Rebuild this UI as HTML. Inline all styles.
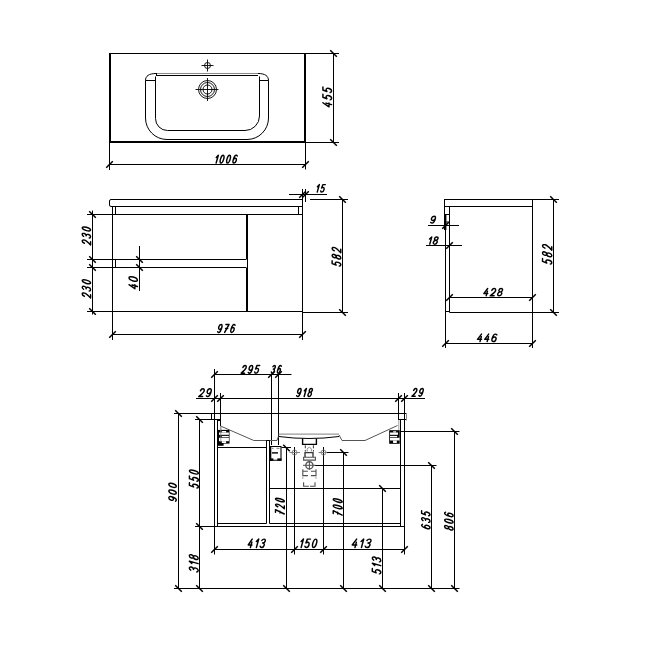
<!DOCTYPE html>
<html><head><meta charset="utf-8"><style>
html,body{margin:0;padding:0;background:#fff;}
svg{display:block;}
.t path{fill:none;stroke:#000;stroke-width:1.45px;stroke-linecap:round;stroke-linejoin:round;}
</style></head><body>
<svg width="650" height="650" viewBox="0 0 650 650">
<rect width="650" height="650" fill="#fff"/>
<line x1="110" y1="53" x2="110" y2="143" stroke="#000" stroke-width="2"/>
<line x1="109" y1="53.5" x2="339" y2="53.5" stroke="#000" stroke-width="1.1"/>
<line x1="305" y1="53" x2="305" y2="143" stroke="#000" stroke-width="2"/>
<line x1="109" y1="142" x2="306" y2="142" stroke="#000" stroke-width="2"/>
<line x1="306" y1="142.5" x2="339" y2="142.5" stroke="#000" stroke-width="1"/>
<line x1="109.5" y1="143" x2="109.5" y2="170" stroke="#000" stroke-width="1"/>
<line x1="305.5" y1="143" x2="305.5" y2="169.5" stroke="#000" stroke-width="1"/>
<path d="M145.5,80.5 L145.5,118 A21.5,21.5 0 0 0 167,139.5 L247,139.5 A21.5,21.5 0 0 0 268.5,118 L268.5,80.5 C268.5,76 265,73.5 258,73.5 M145.5,80.5 C145.5,76 149,73.5 156,73.5" stroke="#000" stroke-width="1" fill="none"/>
<path d="M155.5,76.5 L155.5,118.5 A12,12 0 0 0 167.5,130.5 L245,130.5 A14.5,14.5 0 0 0 259.5,116 L259.5,76.5" stroke="#000" stroke-width="1" fill="none"/>
<line x1="156" y1="73.5" x2="258" y2="73.5" stroke="#888" stroke-width="1"/>
<line x1="156" y1="75.5" x2="258" y2="75.5" stroke="#000" stroke-width="1"/>
<line x1="156.5" y1="73" x2="156.5" y2="76" stroke="#000" stroke-width="1"/>
<line x1="145.5" y1="80.5" x2="155.5" y2="80.5" stroke="#000" stroke-width="1"/>
<line x1="259.5" y1="80.5" x2="268.5" y2="80.5" stroke="#000" stroke-width="1"/>
<circle cx="207.5" cy="65.5" r="3" stroke="#000" stroke-width="0.9" fill="none"/>
<line x1="201.5" y1="65.5" x2="213.5" y2="65.5" stroke="#000" stroke-width="0.9"/>
<line x1="207.5" y1="59.5" x2="207.5" y2="71.5" stroke="#000" stroke-width="0.9"/>
<circle cx="207.5" cy="89.5" r="9" stroke="#000" stroke-width="0.9" fill="none"/>
<circle cx="207.5" cy="89.5" r="7" stroke="#000" stroke-width="0.9" fill="none"/>
<circle cx="207.5" cy="89.5" r="4.5" stroke="#000" stroke-width="0.9" fill="none"/>
<line x1="195.5" y1="89.5" x2="218.5" y2="89.5" stroke="#000" stroke-width="0.9"/>
<line x1="207.5" y1="78" x2="207.5" y2="101" stroke="#000" stroke-width="0.9"/>
<line x1="333.5" y1="53.5" x2="333.5" y2="142.5" stroke="#000" stroke-width="1"/>
<line x1="330.2" y1="50.2" x2="336.8" y2="56.8" stroke="#000" stroke-width="1.5"/>
<line x1="330.2" y1="139.2" x2="336.8" y2="145.8" stroke="#000" stroke-width="1.5"/>
<line x1="109.5" y1="164.5" x2="305.5" y2="164.5" stroke="#000" stroke-width="1"/>
<line x1="106.2" y1="167.8" x2="112.8" y2="161.2" stroke="#000" stroke-width="1.5"/>
<line x1="302.2" y1="167.8" x2="308.8" y2="161.2" stroke="#000" stroke-width="1.5"/>
<path d="M302.5,199.5 L111,199.5 Q109.5,199.5 109.5,201 L109.5,205 Q109.5,206.5 111,206.5 L302.5,206.5" stroke="#000" stroke-width="1" fill="none"/>
<line x1="112.5" y1="206.5" x2="112.5" y2="340" stroke="#000" stroke-width="1"/>
<line x1="302.5" y1="189" x2="302.5" y2="340" stroke="#000" stroke-width="1"/>
<line x1="305.5" y1="189" x2="305.5" y2="202" stroke="#000" stroke-width="1"/>
<line x1="115.5" y1="206.5" x2="115.5" y2="214.5" stroke="#000" stroke-width="1"/>
<line x1="115.5" y1="259.5" x2="115.5" y2="267.5" stroke="#000" stroke-width="1"/>
<line x1="298.5" y1="206.5" x2="298.5" y2="214.5" stroke="#000" stroke-width="1"/>
<line x1="87" y1="214.5" x2="302.5" y2="214.5" stroke="#000" stroke-width="1"/>
<line x1="87" y1="259.5" x2="246" y2="259.5" stroke="#000" stroke-width="1"/>
<line x1="87" y1="267.5" x2="246" y2="267.5" stroke="#000" stroke-width="1"/>
<line x1="87" y1="311.5" x2="302.5" y2="311.5" stroke="#000" stroke-width="1"/>
<line x1="302.5" y1="312.5" x2="348" y2="312.5" stroke="#000" stroke-width="1"/>
<line x1="310" y1="199.5" x2="348" y2="199.5" stroke="#000" stroke-width="1"/>
<line x1="247" y1="214.5" x2="247" y2="259.5" stroke="#000" stroke-width="2"/>
<line x1="247" y1="267.5" x2="247" y2="311.5" stroke="#000" stroke-width="2"/>
<line x1="247.5" y1="259" x2="247.5" y2="268" stroke="#000" stroke-width="1"/>
<line x1="92.5" y1="210.5" x2="92.5" y2="314.5" stroke="#000" stroke-width="1"/>
<line x1="89.2" y1="211.2" x2="95.8" y2="217.8" stroke="#000" stroke-width="1.5"/>
<line x1="89.2" y1="256.2" x2="95.8" y2="262.8" stroke="#000" stroke-width="1.5"/>
<line x1="89.2" y1="264.2" x2="95.8" y2="270.8" stroke="#000" stroke-width="1.5"/>
<line x1="89.2" y1="308.2" x2="95.8" y2="314.8" stroke="#000" stroke-width="1.5"/>
<line x1="139.5" y1="246" x2="139.5" y2="291" stroke="#000" stroke-width="1"/>
<line x1="136.2" y1="256.2" x2="142.8" y2="262.8" stroke="#000" stroke-width="1.5"/>
<line x1="136.2" y1="264.2" x2="142.8" y2="270.8" stroke="#000" stroke-width="1.5"/>
<line x1="112.5" y1="334.5" x2="302.5" y2="334.5" stroke="#000" stroke-width="1"/>
<line x1="109.2" y1="337.8" x2="115.8" y2="331.2" stroke="#000" stroke-width="1.5"/>
<line x1="299.2" y1="337.8" x2="305.8" y2="331.2" stroke="#000" stroke-width="1.5"/>
<line x1="342.5" y1="199.5" x2="342.5" y2="312.5" stroke="#000" stroke-width="1"/>
<line x1="339.2" y1="196.2" x2="345.8" y2="202.8" stroke="#000" stroke-width="1.5"/>
<line x1="339.2" y1="309.2" x2="345.8" y2="315.8" stroke="#000" stroke-width="1.5"/>
<line x1="289" y1="194.5" x2="327" y2="194.5" stroke="#000" stroke-width="1"/>
<line x1="299.2" y1="197.8" x2="305.8" y2="191.2" stroke="#000" stroke-width="1.5"/>
<line x1="302.2" y1="197.8" x2="308.8" y2="191.2" stroke="#000" stroke-width="1.5"/>
<line x1="444.5" y1="199.5" x2="559" y2="199.5" stroke="#000" stroke-width="1"/>
<line x1="444.5" y1="199" x2="444.5" y2="214.5" stroke="#000" stroke-width="1"/>
<line x1="445.5" y1="229" x2="445.5" y2="348" stroke="#000" stroke-width="1"/>
<line x1="444.5" y1="206.5" x2="532.5" y2="206.5" stroke="#000" stroke-width="1"/>
<line x1="449.5" y1="206.5" x2="449.5" y2="312.5" stroke="#000" stroke-width="1"/>
<line x1="449.5" y1="312.5" x2="559" y2="312.5" stroke="#000" stroke-width="1"/>
<line x1="445.5" y1="311.5" x2="449.5" y2="311.5" stroke="#000" stroke-width="1"/>
<line x1="532.5" y1="199.5" x2="532.5" y2="348" stroke="#000" stroke-width="1"/>
<rect x="444" y="214" width="2.4" height="16" fill="#000"/>
<path d="M446,214.5 L449.5,214.5 M446,222 L449.5,222" stroke="#000" stroke-width="1" fill="none"/>
<line x1="428" y1="225.5" x2="459" y2="225.5" stroke="#000" stroke-width="1"/>
<line x1="442.2" y1="228.8" x2="448.8" y2="222.2" stroke="#000" stroke-width="1.5"/>
<line x1="426" y1="245.5" x2="462" y2="245.5" stroke="#000" stroke-width="1"/>
<line x1="446.2" y1="248.8" x2="452.8" y2="242.2" stroke="#000" stroke-width="1.5"/>
<line x1="449.5" y1="297.5" x2="532.5" y2="297.5" stroke="#000" stroke-width="1"/>
<line x1="446.2" y1="300.8" x2="452.8" y2="294.2" stroke="#000" stroke-width="1.5"/>
<line x1="529.2" y1="300.8" x2="535.8" y2="294.2" stroke="#000" stroke-width="1.5"/>
<line x1="445.5" y1="343.5" x2="532.5" y2="343.5" stroke="#000" stroke-width="1"/>
<line x1="442.2" y1="346.8" x2="448.8" y2="340.2" stroke="#000" stroke-width="1.5"/>
<line x1="529.2" y1="346.8" x2="535.8" y2="340.2" stroke="#000" stroke-width="1.5"/>
<line x1="553.5" y1="199.5" x2="553.5" y2="312.5" stroke="#000" stroke-width="1"/>
<line x1="550.2" y1="196.2" x2="556.8" y2="202.8" stroke="#000" stroke-width="1.5"/>
<line x1="550.2" y1="309.2" x2="556.8" y2="315.8" stroke="#000" stroke-width="1.5"/>
<line x1="174" y1="413.5" x2="406.5" y2="413.5" stroke="#000" stroke-width="1"/>
<line x1="195" y1="419.5" x2="220.5" y2="419.5" stroke="#000" stroke-width="1"/>
<line x1="398.5" y1="419.5" x2="406.5" y2="419.5" stroke="#000" stroke-width="1"/>
<line x1="211.5" y1="413.5" x2="211.5" y2="419.5" stroke="#000" stroke-width="1"/>
<line x1="406.5" y1="413.5" x2="406.5" y2="420.5" stroke="#888" stroke-width="1"/>
<line x1="214.5" y1="369" x2="214.5" y2="554.5" stroke="#000" stroke-width="1"/>
<line x1="217.5" y1="419.5" x2="217.5" y2="526.5" stroke="#000" stroke-width="1"/>
<line x1="220.5" y1="393" x2="220.5" y2="426" stroke="#000" stroke-width="1"/>
<line x1="217.5" y1="420.5" x2="220.5" y2="420.5" stroke="#000" stroke-width="1"/>
<line x1="398.5" y1="393" x2="398.5" y2="420" stroke="#000" stroke-width="1"/>
<line x1="400.5" y1="419.5" x2="400.5" y2="526.5" stroke="#000" stroke-width="1"/>
<line x1="404.5" y1="393" x2="404.5" y2="554.5" stroke="#000" stroke-width="1"/>
<line x1="214.5" y1="374.5" x2="291.5" y2="374.5" stroke="#000" stroke-width="1"/>
<line x1="211.2" y1="377.8" x2="217.8" y2="371.2" stroke="#000" stroke-width="1.5"/>
<line x1="268.2" y1="377.8" x2="274.8" y2="371.2" stroke="#000" stroke-width="1.5"/>
<line x1="275.2" y1="377.8" x2="281.8" y2="371.2" stroke="#000" stroke-width="1.5"/>
<line x1="196" y1="398.5" x2="425" y2="398.5" stroke="#000" stroke-width="1"/>
<line x1="211.2" y1="401.8" x2="217.8" y2="395.2" stroke="#000" stroke-width="1.5"/>
<line x1="217.2" y1="401.8" x2="223.8" y2="395.2" stroke="#000" stroke-width="1.5"/>
<line x1="395.2" y1="401.8" x2="401.8" y2="395.2" stroke="#000" stroke-width="1.5"/>
<line x1="401.2" y1="401.8" x2="407.8" y2="395.2" stroke="#000" stroke-width="1.5"/>
<line x1="271.5" y1="374.5" x2="271.5" y2="445" stroke="#000" stroke-width="1"/>
<line x1="278.5" y1="374.5" x2="278.5" y2="445" stroke="#000" stroke-width="1"/>
<path d="M220.5,426 L253.8,440.5 L277,440.5 L278.7,435.7" stroke="#555" stroke-width="1" fill="none"/>
<path d="M397.5,425.5 L365,440.5 L342,440.5 L339,435" stroke="#555" stroke-width="1" fill="none"/>
<line x1="278.7" y1="434.2" x2="339" y2="434.2" stroke="#999" stroke-width="1.3"/>
<path d="M278.7,436.5 Q309,440.5 339,436.5" stroke="#000" stroke-width="1" fill="none"/>
<path d="M302.6,438.5 L302.6,444.4 L316.4,444.4 L316.4,438.5" stroke="#000" stroke-width="1.4" fill="none"/>
<line x1="220.8" y1="426" x2="220.8" y2="445" stroke="#888" stroke-width="0.8"/>
<line x1="398.8" y1="420" x2="398.8" y2="437" stroke="#888" stroke-width="0.8"/>
<line x1="266.5" y1="440.5" x2="266.5" y2="523.5" stroke="#000" stroke-width="1"/>
<line x1="269.5" y1="440.5" x2="269.5" y2="523.5" stroke="#000" stroke-width="1"/>
<line x1="266.5" y1="440.5" x2="269.5" y2="440.5" stroke="#000" stroke-width="1"/>
<line x1="217.5" y1="447.5" x2="266.5" y2="447.5" stroke="#000" stroke-width="1"/>
<line x1="281.5" y1="447.5" x2="291" y2="447.5" stroke="#000" stroke-width="1"/>
<line x1="286.5" y1="447.5" x2="286.5" y2="588.5" stroke="#000" stroke-width="1"/>
<line x1="283.2" y1="444.7" x2="289.8" y2="451.3" stroke="#000" stroke-width="1.5"/>
<line x1="294.5" y1="447" x2="294.5" y2="554.5" stroke="#000" stroke-width="1"/>
<line x1="323.5" y1="447" x2="323.5" y2="554.5" stroke="#000" stroke-width="1"/>
<circle cx="294.5" cy="452.5" r="2.5" stroke="#777" stroke-width="0.9" fill="none"/>
<line x1="289.5" y1="452.5" x2="300" y2="452.5" stroke="#777" stroke-width="0.9"/>
<circle cx="323.5" cy="452.5" r="2.5" stroke="#777" stroke-width="0.9" fill="none"/>
<line x1="318.5" y1="452.5" x2="327" y2="452.5" stroke="#777" stroke-width="0.9"/>
<line x1="327" y1="452.5" x2="348.5" y2="452.5" stroke="#000" stroke-width="1"/>
<line x1="343.5" y1="452.5" x2="343.5" y2="588.5" stroke="#000" stroke-width="1"/>
<line x1="340.2" y1="449.2" x2="346.8" y2="455.8" stroke="#000" stroke-width="1.5"/>
<line x1="314.6" y1="465.5" x2="436.5" y2="465.5" stroke="#000" stroke-width="1"/>
<line x1="431.5" y1="465.5" x2="431.5" y2="588.5" stroke="#000" stroke-width="1"/>
<line x1="428.2" y1="462.2" x2="434.8" y2="468.8" stroke="#000" stroke-width="1.5"/>
<line x1="400.5" y1="431.5" x2="459.5" y2="431.5" stroke="#000" stroke-width="1"/>
<line x1="454.5" y1="431.5" x2="454.5" y2="588.5" stroke="#000" stroke-width="1"/>
<line x1="451.2" y1="428.2" x2="457.8" y2="434.8" stroke="#000" stroke-width="1.5"/>
<line x1="269.5" y1="488.5" x2="400.5" y2="488.5" stroke="#000" stroke-width="1"/>
<line x1="382.5" y1="488.5" x2="382.5" y2="588.5" stroke="#000" stroke-width="1"/>
<line x1="379.2" y1="485.2" x2="385.8" y2="491.8" stroke="#000" stroke-width="1.5"/>
<line x1="217.5" y1="523.5" x2="266.5" y2="523.5" stroke="#000" stroke-width="1"/>
<line x1="269.5" y1="523.5" x2="400.5" y2="523.5" stroke="#000" stroke-width="1"/>
<line x1="195" y1="526.5" x2="404.5" y2="526.5" stroke="#000" stroke-width="1"/>
<line x1="178.5" y1="413.5" x2="178.5" y2="588.5" stroke="#000" stroke-width="1"/>
<line x1="175.2" y1="410.2" x2="181.8" y2="416.8" stroke="#000" stroke-width="1.5"/>
<line x1="175.2" y1="585.2" x2="181.8" y2="591.8" stroke="#000" stroke-width="1.5"/>
<line x1="199.5" y1="419.5" x2="199.5" y2="588.5" stroke="#000" stroke-width="1"/>
<line x1="196.2" y1="416.2" x2="202.8" y2="422.8" stroke="#000" stroke-width="1.5"/>
<line x1="196.2" y1="523.2" x2="202.8" y2="529.8" stroke="#000" stroke-width="1.5"/>
<line x1="196.2" y1="585.2" x2="202.8" y2="591.8" stroke="#000" stroke-width="1.5"/>
<line x1="174" y1="588.5" x2="459.5" y2="588.5" stroke="#000" stroke-width="1"/>
<line x1="283.2" y1="585.2" x2="289.8" y2="591.8" stroke="#000" stroke-width="1.5"/>
<line x1="340.2" y1="585.2" x2="346.8" y2="591.8" stroke="#000" stroke-width="1.5"/>
<line x1="379.2" y1="585.2" x2="385.8" y2="591.8" stroke="#000" stroke-width="1.5"/>
<line x1="428.2" y1="585.2" x2="434.8" y2="591.8" stroke="#000" stroke-width="1.5"/>
<line x1="451.2" y1="585.2" x2="457.8" y2="591.8" stroke="#000" stroke-width="1.5"/>
<line x1="214.5" y1="549.5" x2="404.5" y2="549.5" stroke="#000" stroke-width="1"/>
<line x1="211.2" y1="552.8" x2="217.8" y2="546.2" stroke="#000" stroke-width="1.5"/>
<line x1="291.2" y1="552.8" x2="297.8" y2="546.2" stroke="#000" stroke-width="1.5"/>
<line x1="320.2" y1="552.8" x2="326.8" y2="546.2" stroke="#000" stroke-width="1.5"/>
<line x1="401.2" y1="552.8" x2="407.8" y2="546.2" stroke="#000" stroke-width="1.5"/>
<rect x="389.2" y="430.2" width="10.5" height="13.6" fill="#000"/>
<rect x="393.1" y="431.3" width="3.1" height="1.2" fill="#fff"/>
<rect x="390" y="432.5" width="8" height="2.3" fill="#fff"/>
<rect x="390" y="435.9" width="7.1" height="1.3" fill="#fff"/>
<rect x="390" y="437.8" width="9.5" height="2.7" fill="#fff"/>
<rect x="393.1" y="440.5" width="3.7" height="2.5" fill="#fff"/>
<line x1="400.5" y1="425" x2="400.5" y2="445" stroke="#000" stroke-width="1"/>
<rect x="217.9" y="429.9" width="11.6" height="13.7" fill="#000"/>
<rect x="221.8" y="431" width="4.3" height="1.5" fill="#fff"/>
<rect x="219" y="432.5" width="9.9" height="2.3" fill="#fff"/>
<rect x="221.8" y="435.9" width="7" height="1.3" fill="#fff"/>
<rect x="219" y="437.8" width="9.9" height="3.4" fill="#fff"/>
<rect x="221.8" y="441.2" width="4.3" height="1.8" fill="#fff"/>
<rect x="217.9" y="443" width="5.7" height="2.8" fill="#000"/>
<line x1="217.5" y1="425" x2="217.5" y2="447" stroke="#000" stroke-width="1"/>
<path d="M270.4,446.5 H281 V460.2 H270.4 Z" stroke="#000" stroke-width="1.1" fill="none"/>
<line x1="270.5" y1="446" x2="270.5" y2="461" stroke="#000" stroke-width="1.6"/>
<rect x="271.9" y="452.2" width="6.1" height="1.4" fill="#000"/>
<rect x="270" y="458.4" width="3.4" height="2.3" fill="#000"/>
<rect x="277.3" y="458.4" width="4.2" height="2.3" fill="#000"/>
<line x1="272" y1="448.3" x2="273.5" y2="448.3" stroke="#777" stroke-width="1"/>
<line x1="276.5" y1="448.3" x2="279.5" y2="448.3" stroke="#777" stroke-width="1"/>
<line x1="220.8" y1="426" x2="220.8" y2="442" stroke="#888" stroke-width="0.8"/>
<path d="M305.3,445.3 v3 M305.3,450 v1.6 M313.4,445.3 v3 M313.4,450 v1.6" stroke="#3a3a3a" stroke-width="1" fill="none"/>
<path d="M307.2,451.5 v-2.3 Q309.3,445.2 311.4,449.2 v2.3" stroke="#888" stroke-width="1" fill="none"/>
<path d="M305,457 V452.6 H313 V457" stroke="#3a3a3a" stroke-width="1.4" fill="none"/>
<path d="M303.6,457.3 h11.8 v2.8 h-11.8 z" stroke="#505050" stroke-width="1.1" fill="none"/>
<circle cx="309.4" cy="465.3" r="3.6" stroke="#5a5a5a" stroke-width="1.4" fill="none"/>
<line x1="303" y1="465.3" x2="315.6" y2="465.3" stroke="#505050" stroke-width="1"/>
<line x1="309.4" y1="461.3" x2="309.4" y2="470" stroke="#505050" stroke-width="1"/>
<path d="M307.9,471.3 H302.8 V475.6 H307.9 M310.9,471.3 H316 V475.6 H310.9 M302.8,469.3 v2 M316,469.3 v2" stroke="#505050" stroke-width="1.1" fill="none"/>
<path d="M302.8,476.8 v2 M316,476.8 v2" stroke="#999" stroke-width="1" fill="none"/>
<path d="M303.6,482.3 V486.3 H308.8 M315,482.3 V486.3 H310" stroke="#505050" stroke-width="1.1" fill="none"/>
<g class="t"><path d="M0,0.28 L1,0 L1,1" transform="matrix(1.453,0,-2.198,7.850,216.870,155.225)" vector-effect="non-scaling-stroke"/><path d="M0.5,0 C0.82,0 1,0.25 1,0.5 C1,0.75 0.82,1 0.5,1 C0.18,1 0,0.75 0,0.5 C0,0.25 0.18,0 0.5,0 Z" transform="matrix(3.229,0,-2.198,7.850,221.571,155.225)" vector-effect="non-scaling-stroke"/><path d="M0.5,0 C0.82,0 1,0.25 1,0.5 C1,0.75 0.82,1 0.5,1 C0.18,1 0,0.75 0,0.5 C0,0.25 0.18,0 0.5,0 Z" transform="matrix(3.229,0,-2.198,7.850,228.048,155.225)" vector-effect="non-scaling-stroke"/><path d="M0.92,0.1 C0.8,0.03 0.66,0 0.52,0 C0.16,0 0,0.3 0,0.62 C0,0.86 0.18,1 0.5,1 C0.8,1 1,0.86 1,0.68 C1,0.5 0.8,0.38 0.5,0.38 C0.26,0.38 0.06,0.48 0,0.6" transform="matrix(3.229,0,-2.198,7.850,234.524,155.225)" vector-effect="non-scaling-stroke"/></g>
<g class="t" transform="translate(332.3,107.5) rotate(-90)"><path d="M0.62,0 L0,0.7 L1,0.7 M0.76,0.36 L0.76,1" transform="matrix(3.787,0,-2.422,8.650,2.420,-9.375)" vector-effect="non-scaling-stroke"/><path d="M0.96,0 L0.14,0 L0.04,0.46 C0.18,0.4 0.34,0.37 0.5,0.37 C0.8,0.37 1,0.52 1,0.7 C1,0.88 0.8,1 0.5,1 C0.26,1 0.08,0.93 0,0.84" transform="matrix(3.787,0,-2.422,8.650,9.680,-9.375)" vector-effect="non-scaling-stroke"/><path d="M0.96,0 L0.14,0 L0.04,0.46 C0.18,0.4 0.34,0.37 0.5,0.37 C0.8,0.37 1,0.52 1,0.7 C1,0.88 0.8,1 0.5,1 C0.26,1 0.08,0.93 0,0.84" transform="matrix(3.787,0,-2.422,8.650,16.939,-9.375)" vector-effect="non-scaling-stroke"/></g>
<g class="t"><path d="M0,0.28 L1,0 L1,1" transform="matrix(1.326,0,-2.086,7.450,317.985,184.625)" vector-effect="non-scaling-stroke"/><path d="M0.96,0 L0.14,0 L0.04,0.46 C0.18,0.4 0.34,0.37 0.5,0.37 C0.8,0.37 1,0.52 1,0.7 C1,0.88 0.8,1 0.5,1 C0.26,1 0.08,0.93 0,0.84" transform="matrix(2.946,0,-2.086,7.450,322.447,184.625)" vector-effect="non-scaling-stroke"/></g>
<g class="t" transform="translate(91.3,245.8) rotate(-90)"><path d="M0.02,0.26 C0.08,0.08 0.28,0 0.52,0 C0.8,0 1,0.12 1,0.3 C1,0.48 0.85,0.58 0,1 L1,1" transform="matrix(3.272,0,-2.338,8.350,3.063,-9.075)" vector-effect="non-scaling-stroke"/><path d="M0.04,0.16 C0.14,0.05 0.3,0 0.5,0 C0.78,0 0.96,0.1 0.96,0.25 C0.96,0.4 0.78,0.47 0.42,0.47 C0.8,0.47 1,0.58 1,0.74 C1,0.9 0.8,1 0.5,1 C0.26,1 0.08,0.93 0,0.84" transform="matrix(3.272,0,-2.338,8.350,9.723,-9.075)" vector-effect="non-scaling-stroke"/><path d="M0.5,0 C0.82,0 1,0.25 1,0.5 C1,0.75 0.82,1 0.5,1 C0.18,1 0,0.75 0,0.5 C0,0.25 0.18,0 0.5,0 Z" transform="matrix(3.272,0,-2.338,8.350,16.383,-9.075)" vector-effect="non-scaling-stroke"/></g>
<g class="t" transform="translate(91.3,298.8) rotate(-90)"><path d="M0.02,0.26 C0.08,0.08 0.28,0 0.52,0 C0.8,0 1,0.12 1,0.3 C1,0.48 0.85,0.58 0,1 L1,1" transform="matrix(3.340,0,-2.338,8.350,3.063,-9.075)" vector-effect="non-scaling-stroke"/><path d="M0.04,0.16 C0.14,0.05 0.3,0 0.5,0 C0.78,0 0.96,0.1 0.96,0.25 C0.96,0.4 0.78,0.47 0.42,0.47 C0.8,0.47 1,0.58 1,0.74 C1,0.9 0.8,1 0.5,1 C0.26,1 0.08,0.93 0,0.84" transform="matrix(3.340,0,-2.338,8.350,9.791,-9.075)" vector-effect="non-scaling-stroke"/><path d="M0.5,0 C0.82,0 1,0.25 1,0.5 C1,0.75 0.82,1 0.5,1 C0.18,1 0,0.75 0,0.5 C0,0.25 0.18,0 0.5,0 Z" transform="matrix(3.340,0,-2.338,8.350,16.520,-9.075)" vector-effect="non-scaling-stroke"/></g>
<g class="t" transform="translate(138.10000000000002,289.5) rotate(-90)"><path d="M0.62,0 L0,0.7 L1,0.7 M0.76,0.36 L0.76,1" transform="matrix(3.930,0,-2.338,8.350,2.362,-9.075)" vector-effect="non-scaling-stroke"/><path d="M0.5,0 C0.82,0 1,0.25 1,0.5 C1,0.75 0.82,1 0.5,1 C0.18,1 0,0.75 0,0.5 C0,0.25 0.18,0 0.5,0 Z" transform="matrix(3.930,0,-2.338,8.350,9.680,-9.075)" vector-effect="non-scaling-stroke"/></g>
<g class="t"><path d="M0.08,0.9 C0.2,0.97 0.34,1 0.48,1 C0.84,1 1,0.7 1,0.38 C1,0.14 0.82,0 0.5,0 C0.2,0 0,0.14 0,0.32 C0,0.5 0.2,0.62 0.5,0.62 C0.74,0.62 0.94,0.52 1,0.4" transform="matrix(3.147,0,-2.254,8.050,219.502,324.425)" vector-effect="non-scaling-stroke"/><path d="M0,0 L1,0 L0.3,1 M0.25,0.5 L0.9,0.5" transform="matrix(3.147,0,-2.254,8.050,225.953,324.425)" vector-effect="non-scaling-stroke"/><path d="M0.92,0.1 C0.8,0.03 0.66,0 0.52,0 C0.16,0 0,0.3 0,0.62 C0,0.86 0.18,1 0.5,1 C0.8,1 1,0.86 1,0.68 C1,0.5 0.8,0.38 0.5,0.38 C0.26,0.38 0.06,0.48 0,0.6" transform="matrix(3.147,0,-2.254,8.050,232.405,324.425)" vector-effect="non-scaling-stroke"/></g>
<g class="t" transform="translate(341.5,266.8) rotate(-90)"><path d="M0.96,0 L0.14,0 L0.04,0.46 C0.18,0.4 0.34,0.37 0.5,0.37 C0.8,0.37 1,0.52 1,0.7 C1,0.88 0.8,1 0.5,1 C0.26,1 0.08,0.93 0,0.84" transform="matrix(3.407,0,-2.422,8.650,2.759,-9.375)" vector-effect="non-scaling-stroke"/><path d="M0.5,0.46 C0.22,0.46 0.05,0.36 0.05,0.22 C0.05,0.08 0.25,0 0.5,0 C0.75,0 0.95,0.08 0.95,0.22 C0.95,0.36 0.78,0.46 0.5,0.46 C0.2,0.46 0,0.58 0,0.74 C0,0.9 0.2,1 0.5,1 C0.8,1 1,0.9 1,0.74 C1,0.58 0.8,0.46 0.5,0.46 Z" transform="matrix(3.407,0,-2.422,8.650,9.639,-9.375)" vector-effect="non-scaling-stroke"/><path d="M0.02,0.26 C0.08,0.08 0.28,0 0.52,0 C0.8,0 1,0.12 1,0.3 C1,0.48 0.85,0.58 0,1 L1,1" transform="matrix(3.407,0,-2.422,8.650,16.518,-9.375)" vector-effect="non-scaling-stroke"/></g>
<g class="t"><path d="M0.08,0.9 C0.2,0.97 0.34,1 0.48,1 C0.84,1 1,0.7 1,0.38 C1,0.14 0.82,0 0.5,0 C0.2,0 0,0.14 0,0.32 C0,0.5 0.2,0.62 0.5,0.62 C0.74,0.62 0.94,0.52 1,0.4" transform="matrix(3.888,0,-1.918,6.850,432.140,216.225)" vector-effect="non-scaling-stroke"/></g>
<g class="t"><path d="M0,0.28 L1,0 L1,1" transform="matrix(1.697,0,-2.030,7.250,430.093,236.925)" vector-effect="non-scaling-stroke"/><path d="M0.5,0.46 C0.22,0.46 0.05,0.36 0.05,0.22 C0.05,0.08 0.25,0 0.5,0 C0.75,0 0.95,0.08 0.95,0.22 C0.95,0.36 0.78,0.46 0.5,0.46 C0.2,0.46 0,0.58 0,0.74 C0,0.9 0.2,1 0.5,1 C0.8,1 1,0.9 1,0.74 C1,0.58 0.8,0.46 0.5,0.46 Z" transform="matrix(3.770,0,-2.030,7.250,434.870,236.925)" vector-effect="non-scaling-stroke"/></g>
<g class="t"><path d="M0.62,0 L0,0.7 L1,0.7 M0.76,0.36 L0.76,1" transform="matrix(3.915,0,-2.030,7.250,485.246,288.525)" vector-effect="non-scaling-stroke"/><path d="M0.02,0.26 C0.08,0.08 0.28,0 0.52,0 C0.8,0 1,0.12 1,0.3 C1,0.48 0.85,0.58 0,1 L1,1" transform="matrix(3.915,0,-2.030,7.250,492.241,288.525)" vector-effect="non-scaling-stroke"/><path d="M0.5,0.46 C0.22,0.46 0.05,0.36 0.05,0.22 C0.05,0.08 0.25,0 0.5,0 C0.75,0 0.95,0.08 0.95,0.22 C0.95,0.36 0.78,0.46 0.5,0.46 C0.2,0.46 0,0.58 0,0.74 C0,0.9 0.2,1 0.5,1 C0.8,1 1,0.9 1,0.74 C1,0.58 0.8,0.46 0.5,0.46 Z" transform="matrix(3.915,0,-2.030,7.250,499.236,288.525)" vector-effect="non-scaling-stroke"/></g>
<g class="t"><path d="M0.62,0 L0,0.7 L1,0.7 M0.76,0.36 L0.76,1" transform="matrix(4.050,0,-2.086,7.450,478.985,334.125)" vector-effect="non-scaling-stroke"/><path d="M0.62,0 L0,0.7 L1,0.7 M0.76,0.36 L0.76,1" transform="matrix(4.050,0,-2.086,7.450,486.171,334.125)" vector-effect="non-scaling-stroke"/><path d="M0.92,0.1 C0.8,0.03 0.66,0 0.52,0 C0.16,0 0,0.3 0,0.62 C0,0.86 0.18,1 0.5,1 C0.8,1 1,0.86 1,0.68 C1,0.5 0.8,0.38 0.5,0.38 C0.26,0.38 0.06,0.48 0,0.6" transform="matrix(4.050,0,-2.086,7.450,493.357,334.125)" vector-effect="non-scaling-stroke"/></g>
<g class="t" transform="translate(552.5,264.8) rotate(-90)"><path d="M0.96,0 L0.14,0 L0.04,0.46 C0.18,0.4 0.34,0.37 0.5,0.37 C0.8,0.37 1,0.52 1,0.7 C1,0.88 0.8,1 0.5,1 C0.26,1 0.08,0.93 0,0.84" transform="matrix(3.526,0,-2.590,9.250,2.901,-9.975)" vector-effect="non-scaling-stroke"/><path d="M0.5,0.46 C0.22,0.46 0.05,0.36 0.05,0.22 C0.05,0.08 0.25,0 0.5,0 C0.75,0 0.95,0.08 0.95,0.22 C0.95,0.36 0.78,0.46 0.5,0.46 C0.2,0.46 0,0.58 0,0.74 C0,0.9 0.2,1 0.5,1 C0.8,1 1,0.9 1,0.74 C1,0.58 0.8,0.46 0.5,0.46 Z" transform="matrix(3.526,0,-2.590,9.250,10.066,-9.975)" vector-effect="non-scaling-stroke"/><path d="M0.02,0.26 C0.08,0.08 0.28,0 0.52,0 C0.8,0 1,0.12 1,0.3 C1,0.48 0.85,0.58 0,1 L1,1" transform="matrix(3.526,0,-2.590,9.250,17.232,-9.975)" vector-effect="non-scaling-stroke"/></g>
<g class="t"><path d="M0.02,0.26 C0.08,0.08 0.28,0 0.52,0 C0.8,0 1,0.12 1,0.3 C1,0.48 0.85,0.58 0,1 L1,1" transform="matrix(3.353,0,-2.142,7.650,243.367,365.525)" vector-effect="non-scaling-stroke"/><path d="M0.08,0.9 C0.2,0.97 0.34,1 0.48,1 C0.84,1 1,0.7 1,0.38 C1,0.14 0.82,0 0.5,0 C0.2,0 0,0.14 0,0.32 C0,0.5 0.2,0.62 0.5,0.62 C0.74,0.62 0.94,0.52 1,0.4" transform="matrix(3.353,0,-2.142,7.650,249.912,365.525)" vector-effect="non-scaling-stroke"/><path d="M0.96,0 L0.14,0 L0.04,0.46 C0.18,0.4 0.34,0.37 0.5,0.37 C0.8,0.37 1,0.52 1,0.7 C1,0.88 0.8,1 0.5,1 C0.26,1 0.08,0.93 0,0.84" transform="matrix(3.353,0,-2.142,7.650,256.456,365.525)" vector-effect="non-scaling-stroke"/></g>
<g class="t"><path d="M0.04,0.16 C0.14,0.05 0.3,0 0.5,0 C0.78,0 0.96,0.1 0.96,0.25 C0.96,0.4 0.78,0.47 0.42,0.47 C0.8,0.47 1,0.58 1,0.74 C1,0.9 0.8,1 0.5,1 C0.26,1 0.08,0.93 0,0.84" transform="matrix(2.694,0,-2.142,7.650,273.124,365.525)" vector-effect="non-scaling-stroke"/><path d="M0.92,0.1 C0.8,0.03 0.66,0 0.52,0 C0.16,0 0,0.3 0,0.62 C0,0.86 0.18,1 0.5,1 C0.8,1 1,0.86 1,0.68 C1,0.5 0.8,0.38 0.5,0.38 C0.26,0.38 0.06,0.48 0,0.6" transform="matrix(2.694,0,-2.142,7.650,279.011,365.525)" vector-effect="non-scaling-stroke"/></g>
<g class="t"><path d="M0.02,0.26 C0.08,0.08 0.28,0 0.52,0 C0.8,0 1,0.12 1,0.3 C1,0.48 0.85,0.58 0,1 L1,1" transform="matrix(3.881,0,-2.170,7.750,200.895,388.825)" vector-effect="non-scaling-stroke"/><path d="M0.08,0.9 C0.2,0.97 0.34,1 0.48,1 C0.84,1 1,0.7 1,0.38 C1,0.14 0.82,0 0.5,0 C0.2,0 0,0.14 0,0.32 C0,0.5 0.2,0.62 0.5,0.62 C0.74,0.62 0.94,0.52 1,0.4" transform="matrix(3.881,0,-2.170,7.750,207.996,388.825)" vector-effect="non-scaling-stroke"/></g>
<g class="t"><path d="M0.08,0.9 C0.2,0.97 0.34,1 0.48,1 C0.84,1 1,0.7 1,0.38 C1,0.14 0.82,0 0.5,0 C0.2,0 0,0.14 0,0.32 C0,0.5 0.2,0.62 0.5,0.62 C0.74,0.62 0.94,0.52 1,0.4" transform="matrix(3.194,0,-2.254,8.050,298.498,388.425)" vector-effect="non-scaling-stroke"/><path d="M0,0.28 L1,0 L1,1" transform="matrix(1.437,0,-2.254,8.050,304.996,388.425)" vector-effect="non-scaling-stroke"/><path d="M0.5,0.46 C0.22,0.46 0.05,0.36 0.05,0.22 C0.05,0.08 0.25,0 0.5,0 C0.75,0 0.95,0.08 0.95,0.22 C0.95,0.36 0.78,0.46 0.5,0.46 C0.2,0.46 0,0.58 0,0.74 C0,0.9 0.2,1 0.5,1 C0.8,1 1,0.9 1,0.74 C1,0.58 0.8,0.46 0.5,0.46 Z" transform="matrix(3.194,0,-2.254,8.050,309.737,388.425)" vector-effect="non-scaling-stroke"/></g>
<g class="t"><path d="M0.02,0.26 C0.08,0.08 0.28,0 0.52,0 C0.8,0 1,0.12 1,0.3 C1,0.48 0.85,0.58 0,1 L1,1" transform="matrix(3.266,0,-2.170,7.750,414.095,388.425)" vector-effect="non-scaling-stroke"/><path d="M0.08,0.9 C0.2,0.97 0.34,1 0.48,1 C0.84,1 1,0.7 1,0.38 C1,0.14 0.82,0 0.5,0 C0.2,0 0,0.14 0,0.32 C0,0.5 0.2,0.62 0.5,0.62 C0.74,0.62 0.94,0.52 1,0.4" transform="matrix(3.266,0,-2.170,7.750,420.581,388.425)" vector-effect="non-scaling-stroke"/></g>
<g class="t"><path d="M0.62,0 L0,0.7 L1,0.7 M0.76,0.36 L0.76,1" transform="matrix(3.778,0,-2.338,8.350,249.862,539.125)" vector-effect="non-scaling-stroke"/><path d="M0,0.28 L1,0 L1,1" transform="matrix(1.700,0,-2.338,8.350,257.028,539.125)" vector-effect="non-scaling-stroke"/><path d="M0.04,0.16 C0.14,0.05 0.3,0 0.5,0 C0.78,0 0.96,0.1 0.96,0.25 C0.96,0.4 0.78,0.47 0.42,0.47 C0.8,0.47 1,0.58 1,0.74 C1,0.9 0.8,1 0.5,1 C0.26,1 0.08,0.93 0,0.84" transform="matrix(3.778,0,-2.338,8.350,262.116,539.125)" vector-effect="non-scaling-stroke"/></g>
<g class="t"><path d="M0,0.28 L1,0 L1,1" transform="matrix(1.677,0,-2.338,8.350,301.786,539.125)" vector-effect="non-scaling-stroke"/><path d="M0.96,0 L0.14,0 L0.04,0.46 C0.18,0.4 0.34,0.37 0.5,0.37 C0.8,0.37 1,0.52 1,0.7 C1,0.88 0.8,1 0.5,1 C0.26,1 0.08,0.93 0,0.84" transform="matrix(3.727,0,-2.338,8.350,306.851,539.125)" vector-effect="non-scaling-stroke"/><path d="M0.5,0 C0.82,0 1,0.25 1,0.5 C1,0.75 0.82,1 0.5,1 C0.18,1 0,0.75 0,0.5 C0,0.25 0.18,0 0.5,0 Z" transform="matrix(3.727,0,-2.338,8.350,313.966,539.125)" vector-effect="non-scaling-stroke"/></g>
<g class="t"><path d="M0.62,0 L0,0.7 L1,0.7 M0.76,0.36 L0.76,1" transform="matrix(4.490,0,-2.338,8.350,353.862,539.125)" vector-effect="non-scaling-stroke"/><path d="M0,0.28 L1,0 L1,1" transform="matrix(2.020,0,-2.338,8.350,361.739,539.125)" vector-effect="non-scaling-stroke"/><path d="M0.04,0.16 C0.14,0.05 0.3,0 0.5,0 C0.78,0 0.96,0.1 0.96,0.25 C0.96,0.4 0.78,0.47 0.42,0.47 C0.8,0.47 1,0.58 1,0.74 C1,0.9 0.8,1 0.5,1 C0.26,1 0.08,0.93 0,0.84" transform="matrix(4.490,0,-2.338,8.350,367.148,539.125)" vector-effect="non-scaling-stroke"/></g>
<g class="t" transform="translate(177.0,501.9) rotate(-90)"><path d="M0.08,0.9 C0.2,0.97 0.34,1 0.48,1 C0.84,1 1,0.7 1,0.38 C1,0.14 0.82,0 0.5,0 C0.2,0 0,0.14 0,0.32 C0,0.5 0.2,0.62 0.5,0.62 C0.74,0.62 0.94,0.52 1,0.4" transform="matrix(3.614,0,-2.086,7.450,2.313,-8.175)" vector-effect="non-scaling-stroke"/><path d="M0.5,0 C0.82,0 1,0.25 1,0.5 C1,0.75 0.82,1 0.5,1 C0.18,1 0,0.75 0,0.5 C0,0.25 0.18,0 0.5,0 Z" transform="matrix(3.614,0,-2.086,7.450,9.064,-8.175)" vector-effect="non-scaling-stroke"/><path d="M0.5,0 C0.82,0 1,0.25 1,0.5 C1,0.75 0.82,1 0.5,1 C0.18,1 0,0.75 0,0.5 C0,0.25 0.18,0 0.5,0 Z" transform="matrix(3.614,0,-2.086,7.450,15.814,-8.175)" vector-effect="non-scaling-stroke"/></g>
<g class="t" transform="translate(199.10000000000002,488.7) rotate(-90)"><path d="M0.96,0 L0.14,0 L0.04,0.46 C0.18,0.4 0.34,0.37 0.5,0.37 C0.8,0.37 1,0.52 1,0.7 C1,0.88 0.8,1 0.5,1 C0.26,1 0.08,0.93 0,0.84" transform="matrix(3.179,0,-2.506,8.950,2.830,-9.675)" vector-effect="non-scaling-stroke"/><path d="M0.96,0 L0.14,0 L0.04,0.46 C0.18,0.4 0.34,0.37 0.5,0.37 C0.8,0.37 1,0.52 1,0.7 C1,0.88 0.8,1 0.5,1 C0.26,1 0.08,0.93 0,0.84" transform="matrix(3.179,0,-2.506,8.950,9.565,-9.675)" vector-effect="non-scaling-stroke"/><path d="M0.5,0 C0.82,0 1,0.25 1,0.5 C1,0.75 0.82,1 0.5,1 C0.18,1 0,0.75 0,0.5 C0,0.25 0.18,0 0.5,0 Z" transform="matrix(3.179,0,-2.506,8.950,16.301,-9.675)" vector-effect="non-scaling-stroke"/></g>
<g class="t" transform="translate(198.9,572.7) rotate(-90)"><path d="M0.04,0.16 C0.14,0.05 0.3,0 0.5,0 C0.78,0 0.96,0.1 0.96,0.25 C0.96,0.4 0.78,0.47 0.42,0.47 C0.8,0.47 1,0.58 1,0.74 C1,0.9 0.8,1 0.5,1 C0.26,1 0.08,0.93 0,0.84" transform="matrix(3.604,0,-2.478,8.850,2.807,-9.575)" vector-effect="non-scaling-stroke"/><path d="M0,0.28 L1,0 L1,1" transform="matrix(1.622,0,-2.478,8.850,9.939,-9.575)" vector-effect="non-scaling-stroke"/><path d="M0.5,0.46 C0.22,0.46 0.05,0.36 0.05,0.22 C0.05,0.08 0.25,0 0.5,0 C0.75,0 0.95,0.08 0.95,0.22 C0.95,0.36 0.78,0.46 0.5,0.46 C0.2,0.46 0,0.58 0,0.74 C0,0.9 0.2,1 0.5,1 C0.8,1 1,0.9 1,0.74 C1,0.58 0.8,0.46 0.5,0.46 Z" transform="matrix(3.604,0,-2.478,8.850,15.089,-9.575)" vector-effect="non-scaling-stroke"/></g>
<g class="t" transform="translate(285.0,514.7) rotate(-90)"><path d="M0,0 L1,0 L0.3,1 M0.25,0.5 L0.9,0.5" transform="matrix(2.600,0,-2.450,8.750,2.395,-9.475)" vector-effect="non-scaling-stroke"/><path d="M0.02,0.26 C0.08,0.08 0.28,0 0.52,0 C0.8,0 1,0.12 1,0.3 C1,0.48 0.85,0.58 0,1 L1,1" transform="matrix(2.600,0,-2.450,8.750,8.495,-9.475)" vector-effect="non-scaling-stroke"/><path d="M0.5,0 C0.82,0 1,0.25 1,0.5 C1,0.75 0.82,1 0.5,1 C0.18,1 0,0.75 0,0.5 C0,0.25 0.18,0 0.5,0 Z" transform="matrix(2.600,0,-2.450,8.750,14.596,-9.475)" vector-effect="non-scaling-stroke"/></g>
<g class="t" transform="translate(342.90000000000003,515.8) rotate(-90)"><path d="M0,0 L1,0 L0.3,1 M0.25,0.5 L0.9,0.5" transform="matrix(2.772,0,-2.506,8.950,2.399,-9.675)" vector-effect="non-scaling-stroke"/><path d="M0.5,0 C0.82,0 1,0.25 1,0.5 C1,0.75 0.82,1 0.5,1 C0.18,1 0,0.75 0,0.5 C0,0.25 0.18,0 0.5,0 Z" transform="matrix(2.772,0,-2.506,8.950,8.727,-9.675)" vector-effect="non-scaling-stroke"/><path d="M0.5,0 C0.82,0 1,0.25 1,0.5 C1,0.75 0.82,1 0.5,1 C0.18,1 0,0.75 0,0.5 C0,0.25 0.18,0 0.5,0 Z" transform="matrix(2.772,0,-2.506,8.950,15.055,-9.675)" vector-effect="non-scaling-stroke"/></g>
<g class="t" transform="translate(381.5,574.6) rotate(-90)"><path d="M0.96,0 L0.14,0 L0.04,0.46 C0.18,0.4 0.34,0.37 0.5,0.37 C0.8,0.37 1,0.52 1,0.7 C1,0.88 0.8,1 0.5,1 C0.26,1 0.08,0.93 0,0.84" transform="matrix(3.568,0,-2.366,8.450,2.712,-9.175)" vector-effect="non-scaling-stroke"/><path d="M0,0.28 L1,0 L1,1" transform="matrix(1.606,0,-2.366,8.450,9.697,-9.175)" vector-effect="non-scaling-stroke"/><path d="M0.04,0.16 C0.14,0.05 0.3,0 0.5,0 C0.78,0 0.96,0.1 0.96,0.25 C0.96,0.4 0.78,0.47 0.42,0.47 C0.8,0.47 1,0.58 1,0.74 C1,0.9 0.8,1 0.5,1 C0.26,1 0.08,0.93 0,0.84" transform="matrix(3.568,0,-2.366,8.450,14.718,-9.175)" vector-effect="non-scaling-stroke"/></g>
<g class="t" transform="translate(430.7,529.5) rotate(-90)"><path d="M0.92,0.1 C0.8,0.03 0.66,0 0.52,0 C0.16,0 0,0.3 0,0.62 C0,0.86 0.18,1 0.5,1 C0.8,1 1,0.86 1,0.68 C1,0.5 0.8,0.38 0.5,0.38 C0.26,0.38 0.06,0.48 0,0.6" transform="matrix(3.222,0,-2.338,8.350,2.461,-9.075)" vector-effect="non-scaling-stroke"/><path d="M0.04,0.16 C0.14,0.05 0.3,0 0.5,0 C0.78,0 0.96,0.1 0.96,0.25 C0.96,0.4 0.78,0.47 0.42,0.47 C0.8,0.47 1,0.58 1,0.74 C1,0.9 0.8,1 0.5,1 C0.26,1 0.08,0.93 0,0.84" transform="matrix(3.222,0,-2.338,8.350,9.071,-9.075)" vector-effect="non-scaling-stroke"/><path d="M0.96,0 L0.14,0 L0.04,0.46 C0.18,0.4 0.34,0.37 0.5,0.37 C0.8,0.37 1,0.52 1,0.7 C1,0.88 0.8,1 0.5,1 C0.26,1 0.08,0.93 0,0.84" transform="matrix(3.222,0,-2.338,8.350,15.682,-9.075)" vector-effect="non-scaling-stroke"/></g>
<g class="t" transform="translate(453.8,530.8) rotate(-90)"><path d="M0.5,0.46 C0.22,0.46 0.05,0.36 0.05,0.22 C0.05,0.08 0.25,0 0.5,0 C0.75,0 0.95,0.08 0.95,0.22 C0.95,0.36 0.78,0.46 0.5,0.46 C0.2,0.46 0,0.58 0,0.74 C0,0.9 0.2,1 0.5,1 C0.8,1 1,0.9 1,0.74 C1,0.58 0.8,0.46 0.5,0.46 Z" transform="matrix(3.208,0,-2.366,8.450,2.611,-9.175)" vector-effect="non-scaling-stroke"/><path d="M0.5,0 C0.82,0 1,0.25 1,0.5 C1,0.75 0.82,1 0.5,1 C0.18,1 0,0.75 0,0.5 C0,0.25 0.18,0 0.5,0 Z" transform="matrix(3.208,0,-2.366,8.450,9.235,-9.175)" vector-effect="non-scaling-stroke"/><path d="M0.92,0.1 C0.8,0.03 0.66,0 0.52,0 C0.16,0 0,0.3 0,0.62 C0,0.86 0.18,1 0.5,1 C0.8,1 1,0.86 1,0.68 C1,0.5 0.8,0.38 0.5,0.38 C0.26,0.38 0.06,0.48 0,0.6" transform="matrix(3.208,0,-2.366,8.450,15.860,-9.175)" vector-effect="non-scaling-stroke"/></g>
</svg></body></html>
